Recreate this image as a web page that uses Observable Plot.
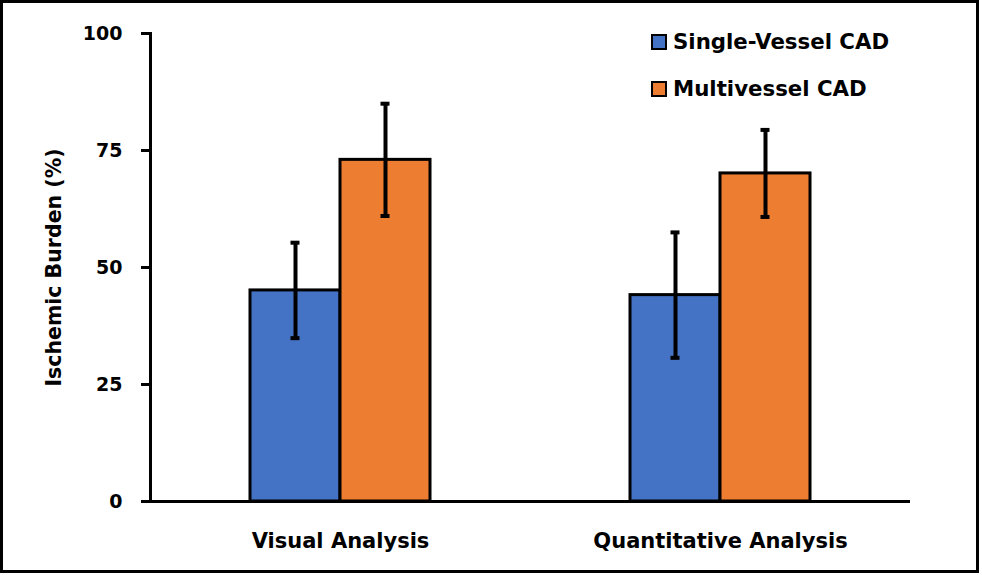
<!DOCTYPE html>
<html>
<head>
<meta charset="utf-8">
<script src="https://cdn.jsdelivr.net/npm/d3@7"></script>
<script src="https://cdn.jsdelivr.net/npm/@observablehq/plot@0.6"></script>
<style>
  html, body { margin: 0; padding: 0; background: #fff; }
  #wrap { position: relative; width: 982px; height: 575px; font-family: "DejaVu Sans", sans-serif; font-weight: bold; }
  #border { position: absolute; left: 0; top: 0; width: 979px; height: 573px; box-sizing: border-box; border: 3px solid #000; pointer-events: none; }
  #legend { position: absolute; left: 651px; top: 30px; font-size: 21.3px; line-height: 24px; color: #000; }
  .item { display: flex; align-items: center; height: 24px; margin-bottom: 23px; }
  .sw { width: 16px; height: 16px; box-sizing: border-box; border: 2.5px solid #000; margin-right: 6px; }
</style>
</head>
<body>
<div id="wrap"><div id="chart"></div><div id="legend"></div><div id="border"></div></div>
<script>
const categories = ["Visual Analysis", "Quantitative Analysis"];
const series = ["Single-Vessel CAD", "Multivessel CAD"];
const colors = ["#4472C4", "#ED7D31"];
const singleValues = [45.1, 44.1];
const singleErrors = [10.2, 13.4];
const multiValues = [73.0, 70.1];
const multiErrors = [12.0, 9.3];
const yTicks = [0, 25, 50, 75, 100];
const yLabel = "Ischemic Burden (%)";

const rows = [];
categories.forEach((c, i) => {
  rows.push({category: c, series: series[0], value: singleValues[i], err: singleErrors[i]});
  rows.push({category: c, series: series[1], value: multiValues[i], err: multiErrors[i]});
});
const lo = d => d.value - d.err;
const hi = d => d.value + d.err;

const chart = Plot.plot({
  width: 982,
  height: 575,
  marginLeft: 150,
  marginRight: 72,
  marginTop: 33,
  marginBottom: 74,
  style: {fontFamily: "DejaVu Sans, sans-serif", fontWeight: "bold", color: "#000", background: "transparent"},
  fx: {domain: categories, padding: 0, label: null},
  x: {domain: series, paddingInner: 0, paddingOuter: 1.088, axis: null},
  y: {domain: [0, 100]},
  color: {domain: series, range: colors},
  marks: [
    Plot.barY(rows, {fx: "category", x: "series", y: "value", fill: "series", stroke: "#000", strokeWidth: 3}),
    Plot.ruleX(rows, {fx: "category", x: "series", y1: lo, y2: hi, stroke: "#000", strokeWidth: 4}),
    Plot.tickY(rows, {fx: "category", x: "series", y: lo, stroke: "#000", strokeWidth: 4, insetLeft: 40.5, insetRight: 40.5}),
    Plot.tickY(rows, {fx: "category", x: "series", y: hi, stroke: "#000", strokeWidth: 4, insetLeft: 40.5, insetRight: 40.5}),
    Plot.ruleY([0], {stroke: "#000", strokeWidth: 3}),
    Plot.frame({anchor: "left", facetAnchor: "left", stroke: "#000", strokeWidth: 3}),
    Plot.axisY({anchor: "left", ticks: yTicks, tickSize: 9, tickPadding: 19, strokeWidth: 3, fontSize: 19,
      label: yLabel, labelAnchor: "center", labelArrow: "none", labelOffset: 104}),
    Plot.axisFx({anchor: "bottom", tickSize: 0, tickPadding: 32, fontSize: 21, label: null})
  ]
});
document.getElementById("chart").appendChild(chart);

chart.querySelectorAll("[aria-label='y-axis label'] text").forEach(t => t.setAttribute("font-size", "20.5"));

const legend = document.getElementById("legend");
series.forEach((s, i) => {
  const item = document.createElement("div");
  item.className = "item";
  const sw = document.createElement("div");
  sw.className = "sw";
  sw.style.background = colors[i];
  const tx = document.createElement("span");
  tx.textContent = s;
  item.appendChild(sw);
  item.appendChild(tx);
  legend.appendChild(item);
});
</script>
</body>
</html>
